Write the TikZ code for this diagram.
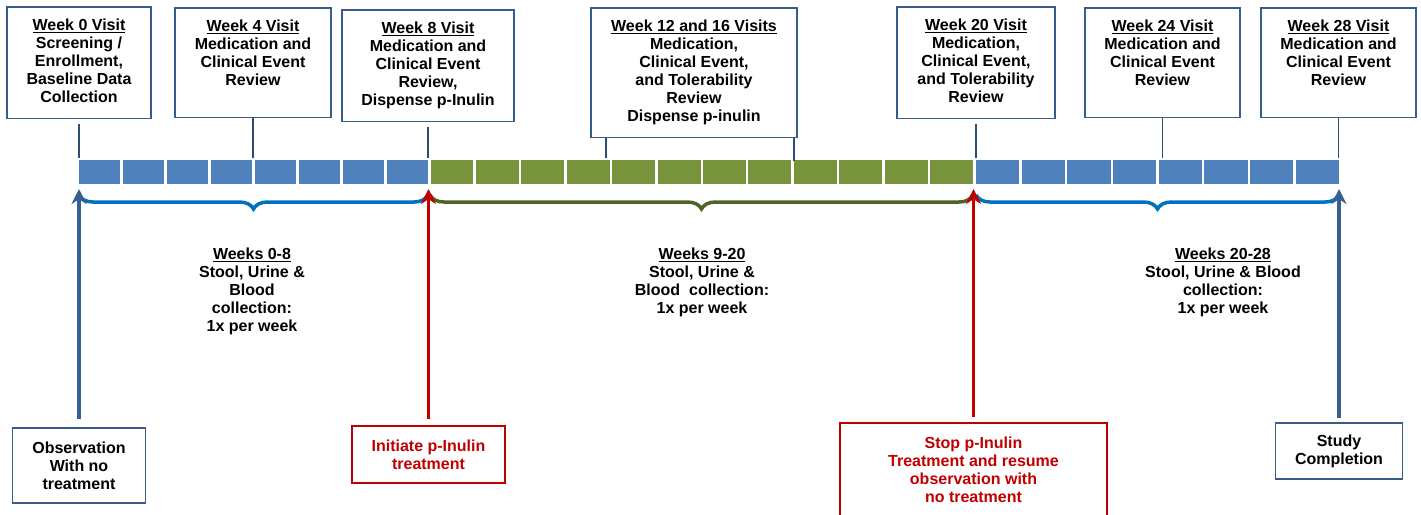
\documentclass[tikz,border=0pt]{standalone}
\usepackage{fontspec}
\setmainfont{Liberation Sans}
\usetikzlibrary{arrows.meta,positioning,decorations.pathreplacing,calc}
\definecolor{barblue}{HTML}{4F81BD}
\definecolor{bargreen}{HTML}{77933C}
\definecolor{spanblue}{HTML}{0070C0}
\definecolor{spangreen}{HTML}{4F6228}
\definecolor{boxblue}{HTML}{385D8A}
\definecolor{linkblue}{HTML}{2C4D75}
\definecolor{arrowblue}{HTML}{376092}
\definecolor{stopred}{HTML}{C00000}

\begin{document}
\begin{tikzpicture}[x=1pt, y=-1pt,
  visit/.style={draw=boxblue, line width=1.6pt, fill=white, anchor=north, align=center,
    inner xsep=3pt, inner ysep=12pt, font=\fontsize{16}{18}\selectfont\bfseries},
  event/.style={draw=boxblue, line width=1.6pt, fill=white, align=center, inner sep=2pt,
    font=\fontsize{16}{18}\selectfont\bfseries},
  note/.style={anchor=north, align=center, inner sep=0pt, font=\fontsize{16}{18}\selectfont\bfseries},
  link/.style={draw=linkblue, line width=1.6pt},
  span/.style={decorate, decoration={brace, mirror, amplitude=14pt}, line width=3.5pt},
  uparr/.style={-{Stealth[length=15pt, width=15pt]}, line width=3.5pt}
]
  \useasboundingbox (0,0) rectangle (1421,514);

  \foreach \i in {0,...,7}
    \fill[barblue] ({79+\i*43.94},160) rectangle ({76.5+(\i+1)*43.94},184);
  \foreach \i in {0,...,11}
    \fill[bargreen] ({430.5+\i*45.42},160) rectangle ({428+(\i+1)*45.42},184);
  \foreach \i in {0,...,7}
    \fill[barblue] ({976+\i*45.69},160) rectangle ({973.5+(\i+1)*45.69},184);

  \coordinate (bartop) at (0,158);
  \coordinate (tipline) at (0,189);

  \node[visit, minimum width=144pt, text depth=4pt] (w0) at (79,6)
    {\underline{Week 0 Visit}\\Screening /\\Enrollment,\\Baseline Data\\Collection};
  \node[visit, minimum width=156pt, text depth=20pt] (w4) at (253,7)
    {\underline{Week 4 Visit}\\Medication and\\Clinical Event\\Review};
  \node[visit, minimum width=172pt, text depth=4pt] (w8) at (428,9)
    {\underline{Week 8 Visit}\\Medication and\\Clinical Event\\Review,\\Dispense p-Inulin};
  \node[visit, minimum width=206pt, text depth=4pt] (w12) at (694,7)
    {\underline{Week 12 and 16 Visits}\\Medication,\\Clinical Event,\\and Tolerability\\Review\\Dispense p-inulin};
  \node[visit, minimum width=158pt, text depth=4pt] (w20) at (976,6)
    {\underline{Week 20 Visit}\\Medication,\\Clinical Event,\\and Tolerability\\Review};
  \node[visit, minimum width=155pt, text depth=20pt] (w24) at (1162.5,7)
    {\underline{Week 24 Visit}\\Medication and\\Clinical Event\\Review};
  \node[visit, minimum width=155pt, text depth=20pt] (w28) at (1338.5,7)
    {\underline{Week 28 Visit}\\Medication and\\Clinical Event\\Review};

  \draw[link] ([yshift=-5pt]w0.south) -- (w0.south |- bartop);
  \draw[link] (w4.south) -- (w4.south |- bartop);
  \draw[link] ([yshift=-5pt]w8.south) -- (w8.south |- bartop);
  \draw[link] ([xshift=16pt]w12.south west) -- +(0,20);
  \draw[link] ([xshift=-4pt]w12.south east) -- +(0,23);
  \draw[link] ([yshift=-5pt]w20.south) -- (w20.south |- bartop);
  \draw[link] (w24.south) -- (w24.south |- bartop);
  \draw[link] (w28.south) -- (w28.south |- bartop);

  \draw[span, draw=spanblue] (79,195) -- (428,195);
  \draw[span, draw=spangreen] (430,195) -- (973,195);
  \draw[span, draw=spanblue] (976,195) -- (1339,195);

  \node[note] (n08) at (252,248)
    {\underline{Weeks 0-8}\\Stool, Urine \&\\Blood\\collection:\\1x per week};
  \node[note] (n920) at (702,248)
    {\underline{Weeks 9-20}\\Stool, Urine \&\\Blood\ \ collection:\\1x per week};
  \node[note] (n2028) at (1223,248)
    {\underline{Weeks 20-28}\\Stool, Urine \& Blood\\collection:\\1x per week};

  \node[event, minimum width=133pt, minimum height=75pt] (obs) at (79,465.5)
    {Observation\\With no\\treatment};
  \node[event, draw=stopred, text=stopred, minimum width=153pt, minimum height=57pt] (init) at (428.5,454.5)
    {Initiate p-Inulin\\treatment};
  \node[event, draw=stopred, text=stopred, minimum width=267pt, minimum height=93pt] (stop) at (973.5,469.5)
    {Stop p-Inulin\\Treatment and resume\\observation with\\no treatment};
  \node[event, minimum width=127pt, minimum height=56pt] (study) at (1339,451)
    {Study\\Completion};

  \draw[uparr, arrowblue] ([yshift=8pt]obs.north) -- (obs.north |- tipline);
  \draw[uparr, stopred] ([yshift=6pt]init.north) -- (init.north |- tipline);
  \draw[uparr, stopred] ([yshift=5pt]stop.north) -- (stop.north |- tipline);
  \draw[uparr, arrowblue] ([yshift=4pt]study.north) -- (study.north |- tipline);
\end{tikzpicture}
\end{document}
